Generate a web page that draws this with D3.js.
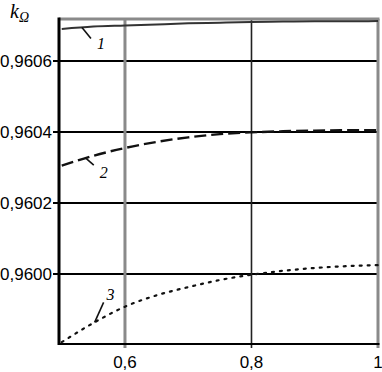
<!DOCTYPE html>
<html>
<head>
<meta charset="utf-8">
<script src="https://cdn.jsdelivr.net/npm/d3@7/dist/d3.min.js"></script>
<style>
html,body{margin:0;padding:0;background:#fff;}
svg{display:block;}
</style>
</head>
<body>
<svg id="chart" width="382" height="372"></svg>
<script>
// ---- data ----
const xValues = [0.5, 0.55, 0.6, 0.65, 0.7, 0.75, 0.8, 0.85, 0.9, 0.95, 1.0];
const series1 = [0.960690, 0.960697, 0.960700, 0.960703, 0.960706, 0.960708, 0.960710, 0.960711, 0.960712, 0.960712, 0.960713];
const series2 = [0.960305, 0.960333, 0.960355, 0.960372, 0.960385, 0.960394, 0.960399, 0.960402, 0.960404, 0.960405, 0.960405];
const series3 = [0.959808, 0.959862, 0.959908, 0.959940, 0.959963, 0.959983, 0.959998, 0.960009, 0.960017, 0.960022, 0.960025];
const seriesNames = ["1", "2", "3"];
const labelAtX = [0.532, 0.538, 0.552];
const xTicks = [0.6, 0.8, 1.0];
const xTickLabels = ["0,6", "0,8", "1"];
const yTicks = [0.9600, 0.9602, 0.9604, 0.9606];
const yTickLabels = ["0,9600", "0,9602", "0,9604", "0,9606"];
const xDomain = [0.4957, 1.0];
const yDomain = [0.9598028, 0.9607183];

// ---- layout ----
const svg = d3.select("#chart");
const L = 59, R = 378, T = 19, B = 344;
const x = d3.scaleLinear().domain(xDomain).range([L, R]);
const y = d3.scaleLinear().domain(yDomain).range([B, T]);
const tickFont = "'Liberation Sans', Arial, sans-serif";
const serif = "'Liberation Serif', 'Times New Roman', serif";

// horizontal gridlines
svg.append("g").selectAll("line").data(yTicks).join("line")
  .attr("x1", L - 6).attr("x2", R)
  .attr("y1", d => y(d)).attr("y2", d => y(d))
  .attr("stroke", "#000").attr("stroke-width", 2);

// vertical gridlines
const vStyle = [{c:"#8a8a8a", w:3}, {c:"#222", w:1.6}, {c:"#8a8a8a", w:3}];
svg.append("g").selectAll("line").data(xTicks).join("line")
  .attr("x1", d => x(d)).attr("x2", d => x(d))
  .attr("y1", T).attr("y2", B + 4)
  .attr("stroke", (d,i) => vStyle[i].c).attr("stroke-width", (d,i) => vStyle[i].w);

// frame: top gray, bottom black, left black thick
svg.append("line").attr("x1", L).attr("x2", R + 1.5).attr("y1", T).attr("y2", T)
  .attr("stroke", "#8a8a8a").attr("stroke-width", 3);
svg.append("line").attr("x1", L).attr("x2", R + 1.5).attr("y1", B).attr("y2", B)
  .attr("stroke", "#000").attr("stroke-width", 2);
svg.append("line").attr("x1", L).attr("x2", L).attr("y1", T - 1.5).attr("y2", B + 1)
  .attr("stroke", "#000").attr("stroke-width", 3);

// tick labels
svg.append("g").selectAll("text").data(yTicks).join("text")
  .attr("x", L - 7).attr("y", d => y(d) + 6)
  .attr("text-anchor", "end")
  .attr("font-family", tickFont).attr("font-size", 17)
  .text((d,i) => yTickLabels[i]);
svg.append("g").selectAll("text").data(xTicks).join("text")
  .attr("x", d => x(d)).attr("y", 368)
  .attr("text-anchor", "middle")
  .attr("font-family", tickFont).attr("font-size", 17)
  .text((d,i) => xTickLabels[i]);

// axis title k_Ω
const t = svg.append("text").attr("x", 10).attr("y", 18)
  .attr("font-family", serif).attr("font-style", "italic").attr("font-size", 20);
t.append("tspan").text("k");
t.append("tspan").attr("font-size", 14).attr("font-style", "italic").attr("dy", 4).text("Ω");

// curves
const line = d3.line().x(d => x(d[0])).y(d => y(d[1])).curve(d3.curveMonotoneX);
const allSeries = [series1, series2, series3];
const dashes = [null, "12,5", "2,6"];
const widths = [2, 2.4, 2.2];
allSeries.forEach((s, i) => {
  svg.append("path")
    .datum(xValues.map((xv, j) => [xv, s[j]]))
    .attr("d", line)
    .attr("fill", "none")
    .attr("stroke", i === 0 ? "#333" : "#111")
    .attr("stroke-width", widths[i])
    .attr("stroke-dasharray", dashes[i])
    .attr("stroke-linecap", i === 2 ? "round" : "butt");
});

// curve labels with leaders
const interp = (s, xv) => {
  const f = d3.scaleLinear().domain(xValues).range(s);
  return f(xv);
};
const leaderOffsets = [[9, 11], [8, 7], [9, -20]];
const textOffsets = [[15, 22], [14, 20], [12, -22]];
allSeries.forEach((s, i) => {
  const px = x(labelAtX[i]), py = y(interp(s, labelAtX[i]));
  svg.append("line")
    .attr("x1", px).attr("y1", py)
    .attr("x2", px + leaderOffsets[i][0]).attr("y2", py + leaderOffsets[i][1])
    .attr("stroke", "#111").attr("stroke-width", 1.6);
  svg.append("text")
    .attr("x", px + textOffsets[i][0]).attr("y", py + textOffsets[i][1])
    .attr("font-family", serif).attr("font-style", "italic").attr("font-size", 16)
    .text(seriesNames[i]);
});
</script>
</body>
</html>
